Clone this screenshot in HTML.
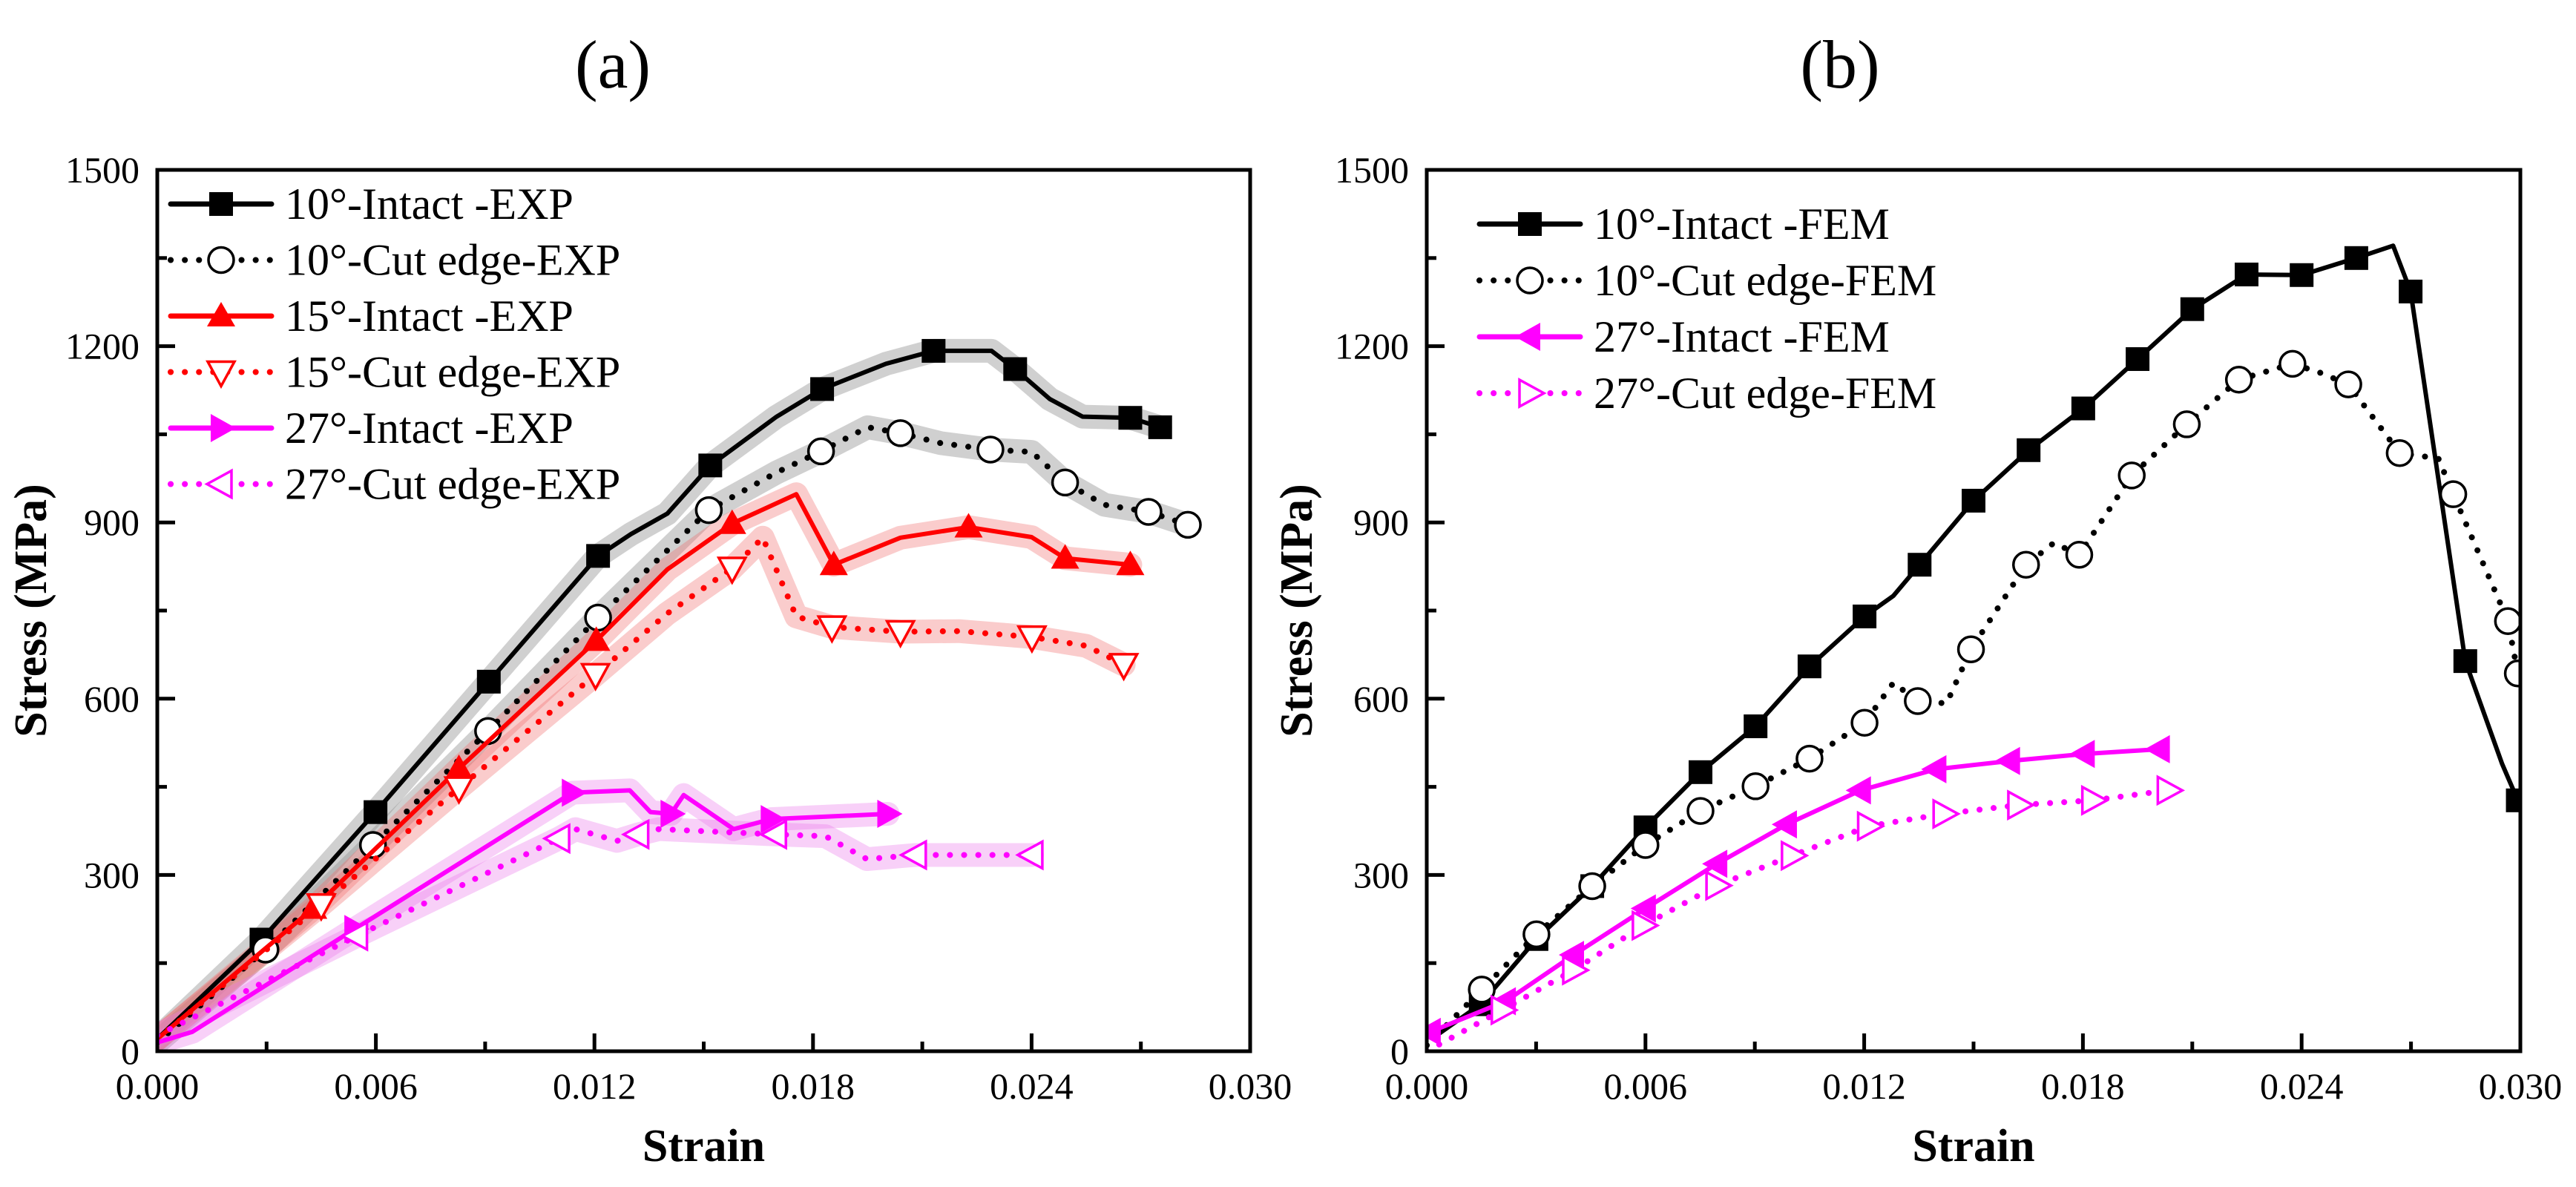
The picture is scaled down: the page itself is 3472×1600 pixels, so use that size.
<!DOCTYPE html>
<html><head><meta charset="utf-8"><style>
html,body{margin:0;padding:0;background:#fff;}
svg{display:block;}
text{font-family:"Liberation Serif","Times New Roman",serif;}
</style></head><body>
<svg id="fig" width="3472" height="1600" viewBox="0 0 3472 1600" xmlns="http://www.w3.org/2000/svg" font-family="Liberation Serif, serif">
<text x="826" y="118" font-size="92" text-anchor="middle" font-family="Liberation Serif, serif">(a)</text>
<text x="2480" y="118" font-size="92" text-anchor="middle" font-family="Liberation Serif, serif">(b)</text>
<g id="pa"></g>
<g id="pb"></g>
</svg>
<script>
// ---- data: panel (a) experiments ----
const xTicks = [0, 0.006, 0.012, 0.018, 0.024, 0.030];
const xTickLabels = ["0.000","0.006","0.012","0.018","0.024","0.030"];
const yTicks = [0, 300, 600, 900, 1200, 1500];
const yTickLabels = ["0","300","600","900","1200","1500"];

const a10iX = [0,0.00286,0.00599,0.0091,0.0121,0.0130,0.0140,0.01518,0.0170,0.01825,0.0200,0.02131,0.0229,0.02355,0.0245,0.0254,0.02671,0.02753];
const a10iY = [21,190,407,629,843,880,915,997,1080,1127,1170,1192,1192,1161,1110,1080,1078,1062];
const a10iMX = [0.00286,0.00599,0.0091,0.0121,0.01518,0.01825,0.02131,0.02355,0.02671,0.02753];
const a10iMY = [190,407,629,843,997,1127,1192,1161,1078,1062];

const a10cX = [0,0.00297,0.00592,0.00908,0.0121,0.01514,0.0170,0.01822,0.0195,0.0204,0.0215,0.02287,0.0240,0.02492,0.0260,0.02721,0.02829];
const a10cY = [15,173,351,545,738,921,985,1021,1062,1052,1035,1024,1020,968,930,918,896];
const a10cMX = [0.00297,0.00592,0.00908,0.0121,0.01514,0.01822,0.0204,0.02287,0.02492,0.02721,0.02829];
const a10cMY = [173,351,545,738,921,1021,1052,1024,968,918,896];

const a15iX = [0,0.00428,0.00828,0.01205,0.0140,0.01578,0.01754,0.01857,0.0204,0.02227,0.0240,0.02492,0.02671];
const a15iY = [21,243,481,699,820,898,948,828,874,892,875,839,828];
const a15iMX = [0.00428,0.00828,0.01205,0.01578,0.01857,0.02227,0.02492,0.02671];
const a15iMY = [243,481,699,898,828,892,839,828];

const a15cX = [0,0.0045,0.00828,0.01203,0.0140,0.01578,0.01662,0.01754,0.01852,0.0204,0.0220,0.02401,0.0255,0.02653];
const a15cY = [21,249,448,641,745,822,874,740,722,714,715,705,690,658];
const a15cMX = [0.0045,0.00828,0.01203,0.01578,0.01852,0.0204,0.02401,0.02653];
const a15cMY = [249,448,641,822,722,714,705,658];

const a27iX = [0,0.00096,0.00542,0.01139,0.01297,0.01354,0.0141,0.01445,0.01582,0.01685,0.02005];
const a27iY = [15,33,208,440,444,407,404,436,378,395,404];
const a27iMX = [0.00542,0.01139,0.0141,0.01685,0.02005];
const a27iMY = [208,440,404,395,404];

const a27cX = [0,0.00547,0.01102,0.01148,0.01262,0.01319,0.01377,0.01697,0.01834,0.01948,0.02081,0.02401];
const a27cY = [27,196,362,378,358,369,378,369,366,327,334,334];
const a27cMX = [0.00547,0.01102,0.01319,0.01697,0.02081,0.02401];
const a27cMY = [196,362,369,369,334,334];

// ---- data: panel (b) FEM ----
const b10iX = [0.00027,0.00148,0.00301,0.00454,0.006,0.00751,0.00902,0.0105,0.01201,0.0128,0.01352,0.015,0.01651,0.01801,0.0195,0.021,0.02249,0.024,0.0255,0.02651,0.02699,0.02849,0.0295,0.02993];
const b10iY = [27,80,191,281,381,475,553,655,740,775,828,937,1023,1094,1178,1263,1322,1321,1350,1371,1293,664,489,427];
const b10iMX = [0.00148,0.00301,0.00454,0.006,0.00751,0.00902,0.0105,0.01201,0.01352,0.015,0.01651,0.01801,0.0195,0.021,0.02249,0.024,0.0255,0.02699,0.02849,0.02993];
const b10iMY = [80,191,281,381,475,553,655,740,828,937,1023,1094,1178,1263,1322,1321,1350,1293,664,427];

const b10cX = [0,0.00151,0.00301,0.00454,0.006,0.00751,0.00902,0.0105,0.01201,0.0128,0.01347,0.01426,0.01493,0.01644,0.0172,0.0179,0.01934,0.02085,0.02228,0.02375,0.0245,0.02528,0.02669,0.02775,0.02816,0.02966,0.02993];
const b10cY = [10,105,199,281,351,409,451,498,559,627,596,592,684,828,865,845,980,1067,1143,1170,1155,1135,1018,1009,948,732,643];
const b10cMX = [0.00151,0.00301,0.00454,0.006,0.00751,0.00902,0.0105,0.01201,0.01347,0.01493,0.01644,0.0179,0.01934,0.02085,0.02228,0.02375,0.02528,0.02669,0.02816,0.02966,0.02993];
const b10cMY = [105,199,281,351,409,451,498,559,596,684,828,845,980,1067,1143,1170,1135,1018,948,732,643];

const b27iX = [0.0001,0.00216,0.00403,0.006,0.00796,0.00987,0.0119,0.01397,0.01599,0.01804,0.0201];
const b27iY = [33,85,164,243,319,386,444,480,494,506,514];
const b27iMX = b27iX.slice();
const b27iMY = b27iY.slice();

const b27cX = [0,0.00207,0.00403,0.00594,0.00796,0.01003,0.01212,0.01419,0.01624,0.01827,0.02034];
const b27cY = [0,70,138,214,282,333,383,404,419,427,444];
const b27cMX = b27cX.slice(1);
const b27cMY = b27cY.slice(1);

const NS = "http://www.w3.org/2000/svg";
const FF = "Liberation Serif, serif";
function mk(parent, tag, attrs){ const e=document.createElementNS(NS,tag); for(const k in attrs) e.setAttribute(k,attrs[k]); if(tag==="text") e.setAttribute("font-family",FF); parent.appendChild(e); return e; }

function panel(g, L, R, T, B, ylabX, series, legend){
  const sx = v => L + (v-0)/(0.030)*(R-L);
  const sy = v => B - v/1500*(B-T);
  const clip = "clip"+L;
  const cp = mk(g,"clipPath",{id:clip}); mk(cp,"rect",{x:L,y:T,width:R-L,height:B-T});
  series.forEach(s=>{ if(!s.band) return;
    const p=mk(g,"polyline",{points:s.x.map((v,i)=>sx(v)+","+sy(s.y[i])).join(" "),fill:"none",stroke:s.band,"stroke-width":32,"stroke-linejoin":"round","stroke-linecap":"round","clip-path":`url(#${clip})`});
    
    
  });
  series.forEach(s=>{
    const p=mk(g,"polyline",{points:s.x.map((v,i)=>sx(v)+","+sy(s.y[i])).join(" "),fill:"none",stroke:s.color,"stroke-width":6,"stroke-linejoin":"round","stroke-linecap":"round","clip-path":`url(#${clip})`});
    if(s.dot){p.setAttribute("stroke-dasharray","0.1 19");p.setAttribute("stroke-width",8);}
    
    
    s.mx.forEach((v,i)=>{ const m=marker(g,s.marker,sx(v),sy(s.my[i]),s.color);
      
      
      m.setAttribute('clip-path',`url(#${clip})`);
    });
  });
  const fr=mk(g,"rect",{x:L,y:T,width:R-L,height:B-T,fill:"none",stroke:"#000","stroke-width":5});
  
  
  for(let i=0;i<xTicks.length;i++){
    const x=sx(xTicks[i]);
    mk(g,"line",{x1:x,y1:B,x2:x,y2:B-24,stroke:"#000","stroke-width":5});
    if(i<xTicks.length-1){const xm=sx((xTicks[i]+xTicks[i+1])/2); mk(g,"line",{x1:xm,y1:B,x2:xm,y2:B-13,stroke:"#000","stroke-width":5});}
    const t=mk(g,"text",{x:x,y:B+64,"font-size":50,"text-anchor":"middle"}); t.textContent=xTickLabels[i];
    
    
  }
  for(let i=0;i<yTicks.length;i++){
    const y=sy(yTicks[i]);
    mk(g,"line",{x1:L,y1:y,x2:L+24,y2:y,stroke:"#000","stroke-width":5});
    if(i<yTicks.length-1){const ym=sy((yTicks[i]+yTicks[i+1])/2); mk(g,"line",{x1:L,y1:ym,x2:L+13,y2:ym,stroke:"#000","stroke-width":5});}
    const t=mk(g,"text",{x:L-24,y:y+17,"font-size":50,"text-anchor":"end"}); t.textContent=yTickLabels[i];
    
    
  }
  const xl=mk(g,"text",{x:(L+R)/2,y:1565,"font-size":62,"font-weight":"bold","text-anchor":"middle"}); xl.textContent="Strain";
  
  
  const yl=mk(g,"text",{x:0,y:0,"font-size":62,"font-weight":"bold","text-anchor":"middle",transform:`translate(${ylabX},${(T+B)/2}) rotate(-90)`}); yl.textContent="Stress (MPa)";
  
  
  legend.rows.forEach((s,i)=>{
    const y=legend.y0+i*legend.dy;
    const lg=mk(g,"g",{});
    
    
    const ln=mk(lg,"line",{x1:legend.x0,y1:y,x2:legend.x0+136,y2:y,stroke:s.color,"stroke-width":s.dot?8:7,"stroke-linecap":"round"});
    if(s.dot) ln.setAttribute("stroke-dasharray","0.1 19");
    marker(lg,s.marker,legend.x0+68,y,s.color);
    const t=mk(lg,"text",{x:legend.x0+154,y:y+20,"font-size":60}); t.textContent=s.label;
  });
}
function marker(g,type,x,y,c){
  const r=16;
  if(type==="sq") return mk(g,"rect",{x:x-r,y:y-r,width:2*r,height:2*r,fill:c});
  if(type==="circ") return mk(g,"circle",{cx:x,cy:y,r:17,fill:"#fff",stroke:c,"stroke-width":3.5});
  if(type==="tri") return mk(g,"polygon",{points:`${x},${y-19} ${x-19},${y+14} ${x+19},${y+14}`,fill:c});
  if(type==="tridown") return mk(g,"polygon",{points:`${x},${y+19} ${x-18},${y-14} ${x+18},${y-14}`,fill:"#fff",stroke:c,"stroke-width":3.5});
  if(type==="triright") return mk(g,"polygon",{points:`${x+20},${y} ${x-14},${y-19} ${x-14},${y+19}`,fill:c});
  if(type==="trileft") return mk(g,"polygon",{points:`${x-20},${y} ${x+14},${y-19} ${x+14},${y+19}`,fill:c});
  if(type==="trilefto") return mk(g,"polygon",{points:`${x-19},${y} ${x+14},${y-18} ${x+14},${y+18}`,fill:"#fff",stroke:c,"stroke-width":3.5});
  if(type==="tririghto") return mk(g,"polygon",{points:`${x+19},${y} ${x-14},${y-18} ${x-14},${y+18}`,fill:"#fff",stroke:c,"stroke-width":3.5});
}
const MAG="#ff00ff", RED="#ff0000";
const sa=[
 {name:"10-intact-exp",label:"10°-Intact -EXP",x:a10iX,y:a10iY,mx:a10iMX,my:a10iMY,color:"#000",marker:"sq",band:"rgba(150,150,150,0.45)"},
 {name:"10-cut-exp",label:"10°-Cut edge-EXP",x:a10cX,y:a10cY,mx:a10cMX,my:a10cMY,color:"#000",marker:"circ",dot:true,band:"rgba(150,150,150,0.45)"},
 {name:"15-intact-exp",label:"15°-Intact -EXP",x:a15iX,y:a15iY,mx:a15iMX,my:a15iMY,color:RED,marker:"tri",band:"rgba(240,110,110,0.35)"},
 {name:"15-cut-exp",label:"15°-Cut edge-EXP",x:a15cX,y:a15cY,mx:a15cMX,my:a15cMY,color:RED,marker:"tridown",dot:true,band:"rgba(240,110,110,0.35)"},
 {name:"27-intact-exp",label:"27°-Intact -EXP",x:a27iX,y:a27iY,mx:a27iMX,my:a27iMY,color:MAG,marker:"triright",band:"rgba(235,120,235,0.35)"},
 {name:"27-cut-exp",label:"27°-Cut edge-EXP",x:a27cX,y:a27cY,mx:a27cMX,my:a27cMY,color:MAG,marker:"trilefto",dot:true,band:"rgba(235,120,235,0.35)"}
];
const sb=[
 {name:"10-intact-fem",label:"10°-Intact -FEM",x:b10iX,y:b10iY,mx:b10iMX,my:b10iMY,color:"#000",marker:"sq"},
 {name:"10-cut-fem",label:"10°-Cut edge-FEM",x:b10cX,y:b10cY,mx:b10cMX,my:b10cMY,color:"#000",marker:"circ",dot:true},
 {name:"27-intact-fem",label:"27°-Intact -FEM",x:b27iX,y:b27iY,mx:b27iMX,my:b27iMY,color:MAG,marker:"trileft"},
 {name:"27-cut-fem",label:"27°-Cut edge-FEM",x:b27cX,y:b27cY,mx:b27cMX,my:b27cMY,color:MAG,marker:"tririghto",dot:true}
];
panel(document.getElementById("pa"),212,1685,229,1417,62,sa,{x0:230,y0:275,dy:75.5,rows:sa});
panel(document.getElementById("pb"),1923,3397,229,1417,1768,sb,{x0:1994,y0:302,dy:76,rows:sb});
</script>
</body></html>
